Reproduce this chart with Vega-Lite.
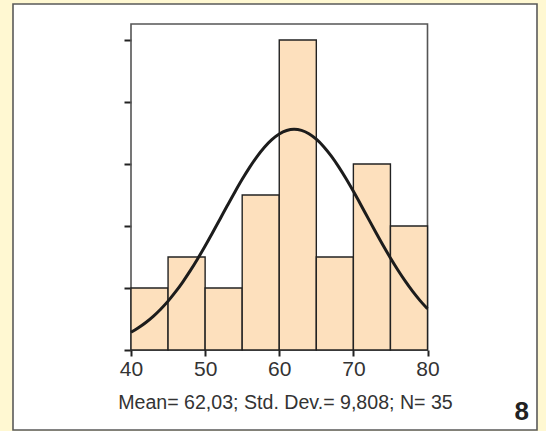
{
  "$schema": "https://vega.github.io/schema/vega-lite/v6.json",
  "width": 524,
  "height": 426,
  "autosize": {"type": "none"},
  "padding": {"left": 13, "top": 4, "right": 9, "bottom": 1},
  "background": "#fff8d2",
  "config": {
    "view": {"fill": "white", "stroke": "#5a5a5a", "strokeWidth": 1.6},
    "font": "Liberation Sans",
    "axis": {
      "labelFontSize": 21,
      "labelColor": "#333333",
      "labelFont": "Liberation Sans",
      "labelPadding": 2,
      "tickColor": "#222222",
      "tickWidth": 2,
      "domain": false,
      "grid": false
    }
  },
  "datasets": {
    "bins": [
      {"bin_start": 40, "bin_end": 45, "count": 2},
      {"bin_start": 45, "bin_end": 50, "count": 3},
      {"bin_start": 50, "bin_end": 55, "count": 2},
      {"bin_start": 55, "bin_end": 60, "count": 5},
      {"bin_start": 60, "bin_end": 65, "count": 10},
      {"bin_start": 65, "bin_end": 70, "count": 3},
      {"bin_start": 70, "bin_end": 75, "count": 6},
      {"bin_start": 75, "bin_end": 80, "count": 4}
    ],
    "curve": [
      {"x": 40, "y": 0.571}, {"x": 41, "y": 0.715}, {"x": 42, "y": 0.885}, {"x": 43, "y": 1.084},
      {"x": 44, "y": 1.314}, {"x": 45, "y": 1.576}, {"x": 46, "y": 1.872}, {"x": 47, "y": 2.200},
      {"x": 48, "y": 2.559}, {"x": 49, "y": 2.945}, {"x": 50, "y": 3.355}, {"x": 51, "y": 3.782},
      {"x": 52, "y": 4.220}, {"x": 53, "y": 4.659}, {"x": 54, "y": 5.091}, {"x": 55, "y": 5.506},
      {"x": 56, "y": 5.892}, {"x": 57, "y": 6.241}, {"x": 58, "y": 6.542}, {"x": 59, "y": 6.786},
      {"x": 60, "y": 6.967}, {"x": 61, "y": 7.079}, {"x": 62, "y": 7.118}, {"x": 63, "y": 7.083},
      {"x": 64, "y": 6.976}, {"x": 65, "y": 6.799}, {"x": 66, "y": 6.558}, {"x": 67, "y": 6.261},
      {"x": 68, "y": 5.915}, {"x": 69, "y": 5.530}, {"x": 70, "y": 5.117}, {"x": 71, "y": 4.686},
      {"x": 72, "y": 4.246}, {"x": 73, "y": 3.808}, {"x": 74, "y": 3.380}, {"x": 75, "y": 2.969},
      {"x": 76, "y": 2.581}, {"x": 77, "y": 2.221}, {"x": 78, "y": 1.891}, {"x": 79, "y": 1.593},
      {"x": 80, "y": 1.329}
    ],
    "frame": [{"x0": 40, "x1": 80, "y0": 0, "y1": 10.516}],
    "notes": [
      {"label": "Mean= 62,03; Std. Dev.= 9,808; N= 35", "tx": 60.84, "ty": -1.913}
    ],
    "panel": [
      {"label": "8", "tx": 92.71, "ty": -2.258}
    ]
  },
  "layer": [
    {
      "data": {"name": "frame"},
      "mark": {"type": "rect", "fillOpacity": 0, "stroke": "#555555", "strokeWidth": 1.6},
      "encoding": {
        "x": {"field": "x0", "type": "quantitative", "title": null,
          "scale": {"domain": [24.081, 94.772], "nice": false, "zero": false},
          "axis": {"values": [40, 50, 60, 70, 80], "offset": -80, "title": null, "tickSize": 6, "labelFontSize": 21}},
        "x2": {"field": "x1"},
        "y": {"field": "y0", "type": "quantitative", "title": null,
          "scale": {"domain": [-2.581, 11.161], "nice": false, "zero": false},
          "axis": {"values": [0, 2, 4, 6, 8, 10], "offset": -118, "labels": false, "title": null, "tickSize": 7}},
        "y2": {"field": "y1"}
      }
    },
    {
      "data": {"name": "bins"},
      "mark": {"type": "rect", "fill": "#fde0bd", "stroke": "#222222", "strokeWidth": 1.4},
      "encoding": {
        "x": {"field": "bin_start", "type": "quantitative", "title": null,
          "scale": {"domain": [24.081, 94.772], "nice": false, "zero": false},
          "axis": {"values": [40, 50, 60, 70, 80], "offset": -80, "title": null, "tickSize": 6, "labelFontSize": 21}},
        "x2": {"field": "bin_end"},
        "y": {"field": "count", "type": "quantitative", "title": null,
          "scale": {"domain": [-2.581, 11.161], "nice": false, "zero": false},
          "axis": {"values": [0, 2, 4, 6, 8, 10], "offset": -118, "labels": false, "title": null, "tickSize": 7}},
        "y2": {"datum": 0}
      }
    },
    {
      "data": {"name": "curve"},
      "mark": {"type": "line", "color": "#1c1c1c", "strokeWidth": 3, "interpolate": "monotone"},
      "encoding": {
        "x": {"field": "x", "type": "quantitative", "title": null,
          "scale": {"domain": [24.081, 94.772], "nice": false, "zero": false},
          "axis": {"values": [40, 50, 60, 70, 80], "offset": -80, "title": null, "tickSize": 6, "labelFontSize": 21}},
        "y": {"field": "y", "type": "quantitative", "title": null,
          "scale": {"domain": [-2.581, 11.161], "nice": false, "zero": false},
          "axis": {"values": [0, 2, 4, 6, 8, 10], "offset": -118, "labels": false, "title": null, "tickSize": 7}}
      }
    },
    {
      "data": {"name": "notes"},
      "mark": {"type": "text", "align": "center", "baseline": "alphabetic", "fontSize": 19.6, "color": "#333333", "font": "Liberation Sans"},
      "encoding": {
        "x": {"field": "tx", "type": "quantitative", "title": null,
          "scale": {"domain": [24.081, 94.772], "nice": false, "zero": false},
          "axis": {"values": [40, 50, 60, 70, 80], "offset": -80, "title": null, "tickSize": 6, "labelFontSize": 21}},
        "y": {"field": "ty", "type": "quantitative", "title": null,
          "scale": {"domain": [-2.581, 11.161], "nice": false, "zero": false},
          "axis": {"values": [0, 2, 4, 6, 8, 10], "offset": -118, "labels": false, "title": null, "tickSize": 7}},
        "text": {"field": "label"}
      }
    },
    {
      "data": {"name": "panel"},
      "mark": {"type": "text", "align": "center", "baseline": "alphabetic", "fontSize": 26, "fontWeight": "bold", "color": "#222222", "font": "Liberation Sans"},
      "encoding": {
        "x": {"field": "tx", "type": "quantitative", "title": null,
          "scale": {"domain": [24.081, 94.772], "nice": false, "zero": false},
          "axis": {"values": [40, 50, 60, 70, 80], "offset": -80, "title": null, "tickSize": 6, "labelFontSize": 21}},
        "y": {"field": "ty", "type": "quantitative", "title": null,
          "scale": {"domain": [-2.581, 11.161], "nice": false, "zero": false},
          "axis": {"values": [0, 2, 4, 6, 8, 10], "offset": -118, "labels": false, "title": null, "tickSize": 7}},
        "text": {"field": "label"}
      }
    }
  ]
}
